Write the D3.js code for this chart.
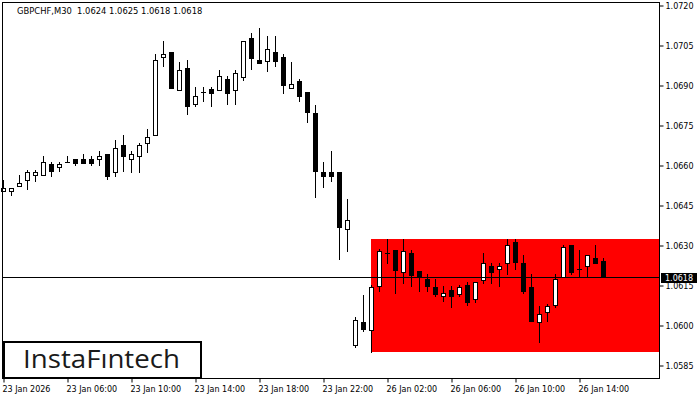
<!DOCTYPE html>
<html>
<head>
<meta charset="utf-8">
<script src="https://cdn.jsdelivr.net/npm/d3@7"></script>
<style>
  body { margin: 0; background: #fff; }
  svg { display: block; }
  .axis text { font-family: "DejaVu Sans", sans-serif; font-size: 8px; fill: #000; }
  .axis line { stroke: #000; }
</style>
</head>
<body>
<div id="chart"></div>
<script>
// **************************DATA***********************************************
var symbolTitle = "GBPCHF,M30  1.0624 1.0625 1.0618 1.0618";

// 30 minute candles, first one is 23 Jan 02:00
var opens = [1.06503, 1.06503, 1.06521, 1.06544, 1.06563, 1.06563, 1.06604, 1.06593, 1.06610, 1.06623,
  1.06623, 1.06623, 1.06623, 1.06641, 1.06574, 1.06675, 1.06623, 1.06634, 1.06683, 1.06713,
  1.07005, 1.07024, 1.06881, 1.06964, 1.06829, 1.06873, 1.06885, 1.06881, 1.06923, 1.06881,
  1.06930, 1.07076, 1.06994, 1.06990, 1.07024, 1.07005, 1.06889, 1.06915, 1.06874, 1.06795,
  1.06574, 1.06574, 1.06574, 1.06360, 1.05925, 1.06011, 1.05981, 1.06148, 1.06269, 1.06281,
  1.06199, 1.06270, 1.06203, 1.06173, 1.06143, 1.06109, 1.06131, 1.06116, 1.06150, 1.06098,
  1.06169, 1.06221, 1.06210, 1.06233, 1.06311, 1.06233, 1.06143, 1.06011, 1.06049, 1.06075,
  1.06180, 1.06300, 1.06209, 1.06221, 1.06251, 1.0624];
var highs = [1.06544, 1.06514, 1.06563, 1.06581, 1.06581, 1.06634, 1.06611, 1.06611, 1.06634, 1.06623,
  1.06641, 1.06634, 1.06653, 1.06641, 1.06694, 1.06713, 1.06653, 1.06682, 1.06735, 1.07016,
  1.07065, 1.07024, 1.06986, 1.06994, 1.06893, 1.06893, 1.06893, 1.06956, 1.06934, 1.06956,
  1.07065, 1.07095, 1.07114, 1.07084, 1.07084, 1.07016, 1.06986, 1.06923, 1.06874, 1.06825,
  1.06611, 1.06653, 1.06574, 1.06473, 1.06030, 1.06113, 1.06150, 1.06285, 1.06323, 1.06281,
  1.06323, 1.06281, 1.06203, 1.06191, 1.06173, 1.06146, 1.06146, 1.06150, 1.06161, 1.06161,
  1.06270, 1.06233, 1.06233, 1.06323, 1.06323, 1.06263, 1.06191, 1.06071, 1.06079, 1.06191,
  1.06300, 1.06300, 1.06281, 1.06263, 1.06300, 1.0625];
var lows = [1.06503, 1.06488, 1.06521, 1.06510, 1.06540, 1.06563, 1.06559, 1.06578, 1.06610, 1.06600,
  1.06608, 1.06600, 1.06600, 1.06548, 1.06559, 1.06578, 1.06574, 1.06574, 1.06649, 1.06713,
  1.06971, 1.06889, 1.06881, 1.06791, 1.06821, 1.06840, 1.06821, 1.06881, 1.06829, 1.06829,
  1.06919, 1.06960, 1.06983, 1.06953, 1.06971, 1.06870, 1.06889, 1.06840, 1.06761, 1.06480,
  1.06518, 1.06540, 1.06248, 1.06278, 1.05918, 1.05978, 1.05899, 1.06128, 1.06233, 1.06120,
  1.06158, 1.06146, 1.06128, 1.06128, 1.06109, 1.06090, 1.06068, 1.06109, 1.06075, 1.06086,
  1.06158, 1.06158, 1.06146, 1.06191, 1.06210, 1.06120, 1.06015, 1.05936, 1.06015, 1.06068,
  1.06180, 1.06191, 1.06180, 1.06180, 1.06233, 1.0618];
var closes = [1.06514, 1.06514, 1.06533, 1.06574, 1.06574, 1.06611, 1.06578, 1.06604, 1.06611, 1.06608,
  1.06608, 1.06608, 1.06634, 1.06559, 1.06664, 1.06634, 1.06641, 1.06675, 1.06705, 1.06994,
  1.07016, 1.06889, 1.06956, 1.06821, 1.06859, 1.06874, 1.06870, 1.06934, 1.06870, 1.06945,
  1.07065, 1.07001, 1.06983, 1.07035, 1.06990, 1.06900, 1.06904, 1.06859, 1.06799, 1.06578,
  1.06559, 1.06559, 1.06368, 1.06394, 1.06019, 1.05985, 1.06143, 1.06279, 1.06270, 1.06206,
  1.06278, 1.06188, 1.06180, 1.06146, 1.06116, 1.06120, 1.06109, 1.06143, 1.06086, 1.06161,
  1.06233, 1.06199, 1.06221, 1.06300, 1.06236, 1.06128, 1.06015, 1.06041, 1.06071, 1.06173,
  1.06293, 1.06199, 1.06210, 1.06263, 1.06233, 1.0618];

// Time axis: candle index of each label
var timeTickIndex = [0, 8, 16, 24, 32, 40, 48, 56, 64, 72];
var timeTickLabels = ["23 Jan 2026", "23 Jan 06:00", "23 Jan 10:00", "23 Jan 14:00", "23 Jan 18:00",
  "23 Jan 22:00", "26 Jan 02:00", "26 Jan 06:00", "26 Jan 10:00", "26 Jan 14:00"];

// Price axis
var priceTicks = [1.0720, 1.0705, 1.0690, 1.0675, 1.0660, 1.0645, 1.0630, 1.0615, 1.0600, 1.0585];
var currentPrice = 1.0618;

// Pattern zone (rectangle)
var zoneStartIndex = 46;
var zoneTop = 1.06323;
var zoneBottom = 1.05899;

// **************************CANVAS SET UP**************************************
var svgWidth = 700,
    svgHeight = 400;

// Plot frame
var frame = {left: 2, top: 2, right: 659, bottom: 378};

var svg = d3.select("#chart")
  .append("svg")
    .attr("width", svgWidth)
    .attr("height", svgHeight);

// *******************************SCALES****************************************
// 8px per candle, candle 0 centered on x = 3
var xScale = d3.scaleLinear()
  .domain([0, 82])
  .range([3, 659]);

var yScale = d3.scaleLinear()
  .domain([1.0585, 1.0720])
  .range([365, 5]);

var candles = opens.map(function(o, i) {
  return {i: i, o: o, h: highs[i], l: lows[i], c: closes[i]};
});

// *******************************ZONE******************************************
svg.append("rect")
  .attr("x", Math.round(xScale(zoneStartIndex)))
  .attr("y", Math.round(yScale(zoneTop)))
  .attr("width", frame.right - Math.round(xScale(zoneStartIndex)))
  .attr("height", Math.round(yScale(zoneBottom)) - Math.round(yScale(zoneTop)))
  .attr("fill", "#ff0000");

// *******************************CANDLES***************************************
var candleGroup = svg.append("g");

// Wicks
candleGroup.selectAll(".wick")
  .data(candles)
  .enter()
  .append("line")
    .attr("x1", d => Math.round(xScale(d.i)) + 0.5)
    .attr("x2", d => Math.round(xScale(d.i)) + 0.5)
    .attr("y1", d => Math.round(yScale(d.h)))
    .attr("y2", d => Math.round(yScale(d.l)) + 1)
    .attr("stroke", "#000")
    .attr("stroke-width", 1);

// Bodies
candleGroup.selectAll(".body")
  .data(candles)
  .enter()
  .append("rect")
    .each(function(d) {
      var cx = Math.round(xScale(d.i));
      var yTop = Math.round(yScale(Math.max(d.o, d.c)));
      var yBot = Math.round(yScale(Math.min(d.o, d.c)));
      var el = d3.select(this);
      if (yBot - yTop < 1) {
        // doji: just a horizontal dash
        el.attr("x", cx - 2).attr("y", yTop).attr("width", 5).attr("height", 1)
          .attr("fill", "#000");
      } else if (d.c >= d.o) {
        el.attr("x", cx - 1.5).attr("y", yTop + 0.5)
          .attr("width", 4).attr("height", Math.max(yBot - yTop, 1))
          .attr("fill", "#fff").attr("stroke", "#000").attr("stroke-width", 1);
      } else {
        el.attr("x", cx - 2).attr("y", yTop)
          .attr("width", 5).attr("height", yBot - yTop + 1)
          .attr("fill", "#000");
      }
    });

// *********************************CURRENT PRICE LINE**************************
svg.append("line")
  .attr("x1", frame.left)
  .attr("x2", frame.right)
  .attr("y1", Math.round(yScale(currentPrice)) + 0.5)
  .attr("y2", Math.round(yScale(currentPrice)) + 0.5)
  .attr("stroke", "#000")
  .attr("stroke-width", 1);

// *********************************AXES****************************************
var yAxis = d3.axisRight(yScale)
  .tickValues(priceTicks)
  .tickSize(4)
  .tickPadding(2)
  .tickFormat(d3.format(".4f"));

var yAxisGroup = svg.append("g")
  .attr("class", "axis")
  .attr("transform", `translate(${frame.right + 0.5}, 0.5)`)
  .call(yAxis);
yAxisGroup.select(".domain").remove();

var xAxis = d3.axisBottom(xScale)
  .tickValues(timeTickIndex)
  .tickSize(4)
  .tickPadding(4)
  .tickFormat((d, i) => timeTickLabels[i]);

var xAxisGroup = svg.append("g")
  .attr("class", "axis")
  .attr("transform", `translate(0.5, ${frame.bottom + 0.5})`)
  .call(xAxis);
xAxisGroup.select(".domain").remove();
xAxisGroup.selectAll("text")
  .attr("text-anchor", "start")
  .attr("dx", -1.5);

// Current price label on the axis
var priceY = Math.round(yScale(currentPrice));
svg.append("rect")
  .attr("x", 661)
  .attr("y", priceY - 4)
  .attr("width", 36)
  .attr("height", 10)
  .attr("fill", "#000");

svg.append("text")
  .attr("x", 665)
  .attr("y", priceY + 4)
  .attr("font-family", "DejaVu Sans, sans-serif")
  .attr("font-size", "8px")
  .attr("fill", "#fff")
  .text(d3.format(".4f")(currentPrice));

// *********************************FRAME***************************************
svg.append("rect")
  .attr("x", frame.left + 0.5)
  .attr("y", frame.top + 0.5)
  .attr("width", frame.right - frame.left)
  .attr("height", frame.bottom - frame.top)
  .attr("fill", "none")
  .attr("stroke", "#000")
  .attr("stroke-width", 1);

// Title
svg.append("text")
  .attr("x", 17)
  .attr("y", 14)
  .attr("font-family", "DejaVu Sans, sans-serif")
  .attr("font-size", "8.4px")
  .attr("fill", "#000")
  .style("white-space", "pre")
  .text(symbolTitle);

// *********************************LOGO****************************************
svg.append("rect")
  .attr("x", 4)
  .attr("y", 342)
  .attr("width", 197)
  .attr("height", 36)
  .attr("fill", "#fff")
  .attr("stroke", "#000")
  .attr("stroke-width", 2);

svg.append("text")
  .attr("x", 23)
  .attr("y", 368)
  .attr("font-family", "Open Sans, sans-serif")
  .attr("font-size", "25px")
  .attr("font-weight", 500)
  .attr("fill", "#1a1a1a")
  .attr("textLength", 157)
  .attr("lengthAdjust", "spacingAndGlyphs")
  .text("InstaF\u0131ntech");
</script>
</body>
</html>
